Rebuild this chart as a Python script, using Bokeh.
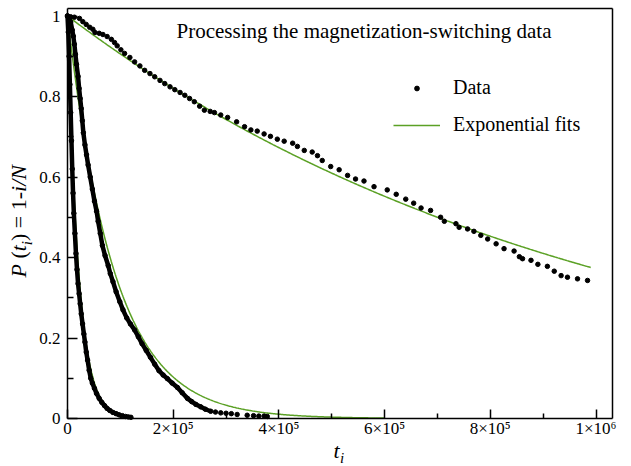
import numpy as np
from bokeh.plotting import figure
from bokeh.models import Range1d, FixedTicker, Label, Legend, LegendItem, LinearAxis
from bokeh.embed import file_html
from bokeh.resources import INLINE

# ---------------- data ----------------
slow_t = [0, 6e3, 13e3, 22.7e3, 29e3, 35.4e3, 42e3, 48e3, 52e3, 60e3, 67e3, 75e3, 83e3, 89e3,
          94e3, 101e3, 108e3, 118e3, 127e3, 137e3, 146e3, 156e3, 165e3, 175e3, 184e3, 194e3,
          203e3, 213e3, 222e3, 231e3, 240e3, 250e3, 259e3, 270e3, 278e3, 290e3, 303e3, 320e3,
          335e3, 347e3, 359e3, 372e3, 384e3, 397e3, 410e3, 426e3, 435e3, 448e3, 463e3, 473e3,
          482e3, 498e3, 514e3, 530e3, 545e3, 561e3, 580e3, 605e3, 622e3, 640e3, 655e3, 669e3,
          687e3, 706e3, 713e3, 735e3, 741e3, 757e3, 769e3, 782e3, 795e3, 811e3, 826e3, 845e3,
          855e3, 861e3, 877e3, 890e3, 908e3, 921e3, 934e3, 946e3, 965e3, 984e3]
slow_p = [1.000, 0.998, 0.997, 0.994, 0.986, 0.979, 0.972, 0.967, 0.959, 0.957, 0.954, 0.949,
          0.942, 0.934, 0.926, 0.916, 0.907, 0.897, 0.886, 0.876, 0.865, 0.857, 0.849, 0.840,
          0.832, 0.824, 0.817, 0.810, 0.803, 0.795, 0.787, 0.776, 0.766, 0.763, 0.760, 0.754,
          0.748, 0.737, 0.725, 0.717, 0.714, 0.707, 0.701, 0.694, 0.689, 0.684, 0.676, 0.666,
          0.662, 0.653, 0.641, 0.626, 0.618, 0.604, 0.595, 0.590, 0.576, 0.568, 0.557, 0.545,
          0.535, 0.523, 0.517, 0.500, 0.490, 0.484, 0.475, 0.471, 0.465, 0.455, 0.446, 0.434,
          0.422, 0.416, 0.402, 0.397, 0.393, 0.383, 0.378, 0.366, 0.355, 0.351, 0.347, 0.343]

med_t = [0, 3e3, 6e3, 9e3, 11e3, 13e3, 15e3, 17e3, 20e3, 22e3, 24e3, 26e3, 28e3, 30e3, 33e3,
         36e3, 39e3, 43e3, 47e3, 51e3, 55e3, 58e3, 62e3, 66e3, 71e3, 77e3, 81e3, 86e3, 92e3,
         99e3, 105e3, 112e3, 119e3, 127e3, 134e3, 141e3, 149e3, 157e3, 165e3, 173e3, 181e3,
         189e3, 198e3, 208e3, 217e3, 227e3, 235e3, 243e3, 252e3, 261e3, 271e3, 280e3, 290e3,
         300e3, 310e3, 321e3, 340e3, 352e3, 362e3, 372e3, 378e3]
med_p = [1.000, 0.995, 0.985, 0.965, 0.950, 0.930, 0.905, 0.880, 0.850, 0.820, 0.795, 0.770,
         0.740, 0.710, 0.680, 0.655, 0.630, 0.600, 0.570, 0.540, 0.515, 0.490, 0.460, 0.430,
         0.405, 0.380, 0.360, 0.340, 0.315, 0.290, 0.270, 0.250, 0.235, 0.220, 0.203, 0.186,
         0.169, 0.152, 0.135, 0.119, 0.108, 0.099, 0.088, 0.077, 0.064, 0.050, 0.042, 0.035,
         0.029, 0.023, 0.018, 0.016, 0.014, 0.013, 0.012, 0.010, 0.008, 0.007, 0.006, 0.006,
         0.005]

fast_t = [0, 1.5e3, 3e3, 4.5e3, 6e3, 7.5e3, 9e3, 10.5e3, 12e3, 14e3, 16e3, 18e3, 20e3, 22e3,
          24e3, 26e3, 28.5e3, 31e3, 33e3, 35.5e3, 38e3, 41e3, 44e3, 47e3, 51e3, 55e3, 60e3,
          65e3, 70e3, 75e3, 80e3, 86e3, 92e3, 98e3, 104e3, 110e3, 115e3, 120e3]
fast_p = [1.000, 0.960, 0.900, 0.830, 0.760, 0.690, 0.620, 0.560, 0.510, 0.460, 0.410, 0.370,
          0.335, 0.310, 0.285, 0.260, 0.235, 0.210, 0.190, 0.165, 0.145, 0.120, 0.100, 0.088,
          0.075, 0.062, 0.050, 0.040, 0.032, 0.025, 0.020, 0.015, 0.012, 0.009, 0.007, 0.005,
          0.004, 0.003]

# exponential fit parameters: P(t) = exp(-t / tau)
fit_tau = {"slow": 1.01e6, "med": 88e3, "fast": 21e3}
fit_t_end = {"slow": 9.9e5, "med": 6.0e5, "fast": 1.0e5}

x_ticks = [0, 200000, 400000, 600000, 800000, 1000000]
x_minor = [100000, 300000, 500000, 700000, 900000]
x_tick_labels = ["0", "2×10⁵", "4×10⁵", "6×10⁵", "8×10⁵", "1×10⁶"]
y_ticks = [0, 0.2, 0.4, 0.6, 0.8, 1]
y_minor = [0.1, 0.3, 0.5, 0.7, 0.9]
y_tick_labels = ["0", "0.2", "0.4", "0.6", "0.8", "1"]

title_text = "Processing the magnetization-switching data"

# ---------------- layout (page pixel -> data mapping) ----------------
FONT = "Liberation Serif"
GREEN = "#5ba125"
W, H = 631, 466
FRAME_L, FRAME_B = 67, 418          # page px of the plot box left / bottom
PX_PER_T = 528.5e-6
PX_PER_P = 402.5
BASE_SHIFT = 0.49                   # rendered baseline sits this many em below the anchor


def dx(px):
    return (px - FRAME_L) / PX_PER_T


def dy(py):
    return (FRAME_B - py) / PX_PER_P


X_END = dx(612)
Y_END = dy(8.3)

p = figure(width=W, height=H, output_backend="svg", toolbar_location=None,
           x_axis_type=None, y_axis_type=None,
           x_range=Range1d(dx(0), dx(W)), y_range=Range1d(dy(H), dy(0)),
           min_border=0, min_border_left=0, min_border_right=0,
           min_border_top=0, min_border_bottom=0)
p.outline_line_color = None
p.background_fill_color = "white"
p.border_fill_color = "white"

xa = LinearAxis(fixed_location=0, bounds=(0, X_END),
                ticker=FixedTicker(ticks=x_ticks, minor_ticks=x_minor))
xa.major_label_overrides = {k: v for k, v in zip(x_ticks, x_tick_labels)}
ya = LinearAxis(fixed_location=0, bounds=(0, Y_END),
                ticker=FixedTicker(ticks=y_ticks, minor_ticks=y_minor))
ya.major_label_overrides = {k: v for k, v in zip(y_ticks, y_tick_labels)}
top = LinearAxis(fixed_location=Y_END, bounds=(0, X_END), ticker=FixedTicker(ticks=[]))
right = LinearAxis(fixed_location=X_END, bounds=(0, Y_END), ticker=FixedTicker(ticks=[]))

for ax, mj, mn, so in ((xa, 9, 5, 0), (ya, 10, 6, 7), (top, 0, 0, 0), (right, 0, 0, 0)):
    ax.axis_line_width = 1.5
    ax.axis_line_color = "black"
    ax.major_tick_in = mj
    ax.major_tick_out = 0
    ax.minor_tick_in = mn
    ax.minor_tick_out = 0
    ax.major_tick_line_width = 1.5
    ax.minor_tick_line_width = 1.5
    ax.major_tick_line_color = "black"
    ax.minor_tick_line_color = "black"
    ax.major_label_text_font = FONT
    ax.major_label_text_font_size = "17px"
    ax.major_label_text_color = "black"
    ax.major_label_standoff = so

p.add_layout(xa, "below")
p.add_layout(ya, "left")
p.add_layout(top, "above")
p.add_layout(right, "right")

# fits
fit_renderers = {}
for key in ("slow", "med", "fast"):
    tt = np.linspace(0, fit_t_end[key], 400)
    fit_renderers[key] = p.line(tt, np.exp(-tt / fit_tau[key]), line_color=GREEN, line_width=1.5)

# data: dense parts also drawn as a thick line
p.line(med_t[:51], med_p[:51], line_color="black", line_width=4.5)
p.line(fast_t[:34], fast_p[:34], line_color="black", line_width=4.5)
r_med = p.scatter(med_t, med_p, size=4.5, line_width=1, color="black")
r_fast = p.scatter(fast_t, fast_p, size=4.5, line_width=1, color="black")
r_slow = p.scatter(slow_t, slow_p, size=4.5, line_width=1, color="black")

legend_common = dict(orientation="vertical", glyph_width=47, label_standoff=13,
                     padding=0, margin=0, border_line_color=None, background_fill_alpha=0,
                     label_text_font=FONT, label_text_font_size="20px",
                     label_text_color="black")
# "Data" entry: small glyph box keeps the legend dot as small as the data dots
p.add_layout(Legend(items=[LegendItem(label="Data", renderers=[r_slow])],
                    location=(393, 466 - 99), glyph_height=12, label_height=12,
                    **legend_common))
p.add_layout(Legend(items=[LegendItem(label="Exponential fits",
                                      renderers=[fit_renderers["slow"]])],
                    location=(393, 466 - 136), glyph_height=22, label_height=22,
                    **legend_common))


def text_label(txt, px, py, size, style="normal", angle=0):
    # px, py: desired baseline start in page px
    shift = BASE_SHIFT * size
    if angle:
        px -= shift
    else:
        py -= shift
    p.add_layout(Label(x=dx(px), y=dy(py), text=txt, angle=angle, angle_units="deg",
                       text_font=FONT, text_font_style=style, text_font_size=f"{size}px",
                       text_baseline="alphabetic", text_align="left", text_color="black"))


# title inside the plot box
text_label(title_text, 176, 40.5, 21)

# y axis label pieces: P (t_i) = 1-i/N  (rotated, reading upwards)
for txt, style, size, px, py in [("P", "italic", 22, 29, 277),
                                 ("(", "normal", 22, 29, 258.1),
                                 ("t", "italic", 22, 29, 250.8),
                                 ("i", "italic", 15, 34, 244.7),
                                 (") = 1-", "normal", 22, 29, 240.5),
                                 ("i/N", "italic", 22, 29, 191.4)]:
    text_label(txt, px, py, size, style, angle=90)

# x axis label: t_i
text_label("t", 333, 461, 22, "italic")
text_label("i", 339.5, 465, 15, "italic")

open("out.html", "w").write(file_html(p, INLINE))
